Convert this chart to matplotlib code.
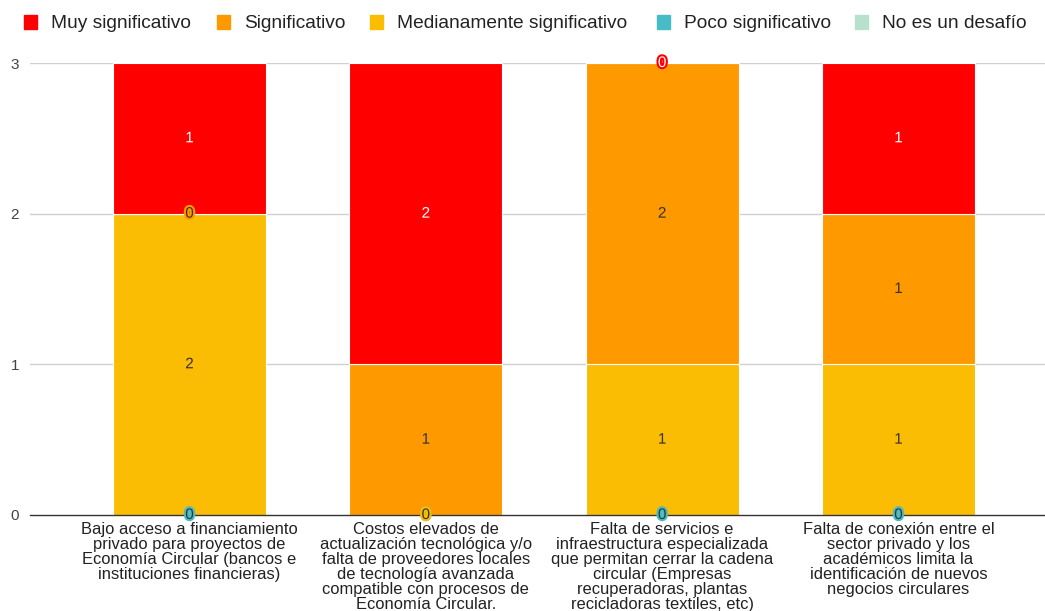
import matplotlib
matplotlib.use("Agg")
import matplotlib.pyplot as plt
import matplotlib.patheffects as pe
from matplotlib.patches import Rectangle
import numpy as np

plt.rcParams['font.family'] = ['Liberation Sans', 'DejaVu Sans']

categories = [
    "Bajo acceso a financiamiento\nprivado para proyectos de\nEconomía Circular (bancos e\ninstituciones financieras)",
    "Costos elevados de\nactualización tecnológica y/o\nfalta de proveedores locales\nde tecnología avanzada\ncompatible con procesos de\nEconomía Circular.",
    "Falta de servicios e\ninfraestructura especializada\nque permitan cerrar la cadena\ncircular (Empresas\nrecuperadoras, plantas\nrecicladoras textiles, etc)",
    "Falta de conexión entre el\nsector privado y los\nacadémicos limita la\nidentificación de nuevos\nnegocios circulares",
]

series_names = ["Muy significativo", "Significativo", "Medianamente significativo",
                "Poco significativo", "No es un desafío"]
muy_significativo = [1, 2, 0, 1]
significativo = [0, 1, 2, 1]
medianamente = [2, 0, 1, 1]
poco_significativo = [0, 0, 0, 0]
no_es_desafio = [0, 0, 0, 0]

colors = ["#ff0000", "#ff9900", "#fbbc04", "#46bdc6", "#b7e1cd"]
text_colors = ["white", "#333333", "#333333", "#333333", "#333333"]
y_ticks = [0, 1, 2, 3]

values = [muy_significativo, significativo, medianamente, poco_significativo, no_es_desafio]

W, H = 1045, 611
fig = plt.figure(figsize=(W / 100, H / 100), dpi=100)
ax = fig.add_axes([30 / W, 96 / H, (W - 30) / W, (515 - 63) / H])

x = np.arange(len(categories))
bottom = np.zeros(len(categories))
# stack from the last series (bottom) to the first (top)
order = [4, 3, 2, 1, 0]
for i in order:
    v = np.array(values[i], dtype=float)
    ax.bar(x, v, width=0.648, bottom=bottom, color=colors[i],
           edgecolor="white", linewidth=0.8, zorder=3)
    if i != 4:
        for xi, (b, val) in enumerate(zip(bottom, v)):
            ax.text(xi, b + val / 2, f"{int(val)}", ha="center", va="center",
                    fontsize=11, color=text_colors[i], zorder=5,
                    path_effects=[pe.withStroke(linewidth=3, foreground=colors[i])])
    bottom += v

ax.set_xlim(-0.675, 3.62)
ax.set_ylim(0, 3)
ax.set_yticks(y_ticks)
ax.set_yticklabels([str(t) for t in y_ticks], fontsize=11, color="#444444")
ax.tick_params(axis="y", length=0, pad=8)
ax.tick_params(axis="x", length=0, pad=5)
ax.set_xticks(x)
ax.set_xticklabels(categories, fontsize=11.9, color="#222222", linespacing=1.0, va="top")
ax.grid(axis="y", color="#d0d0d0", linewidth=1, zorder=0)
for s in ["top", "right", "left"]:
    ax.spines[s].set_visible(False)
ax.spines["bottom"].set_color("#333333")
ax.spines["bottom"].set_linewidth(1)
ax.spines["bottom"].set_zorder(4)
for gl in ax.get_ygridlines()[:1]:
    gl.set_visible(False)

# legend across the top
legend_x = [24, 217, 370, 657, 855]
for i, name in enumerate(series_names):
    fig.add_artist(Rectangle((legend_x[i] / W, (H - 29) / H), 13 / W, 14 / H,
                             transform=fig.transFigure, color=colors[i]))
    fig.text((legend_x[i] + 27) / W, (H - 24) / H, name, fontsize=13.8,
             color="#222222", va="center", ha="left")

fig.savefig("out.png", dpi=100, facecolor="white")
